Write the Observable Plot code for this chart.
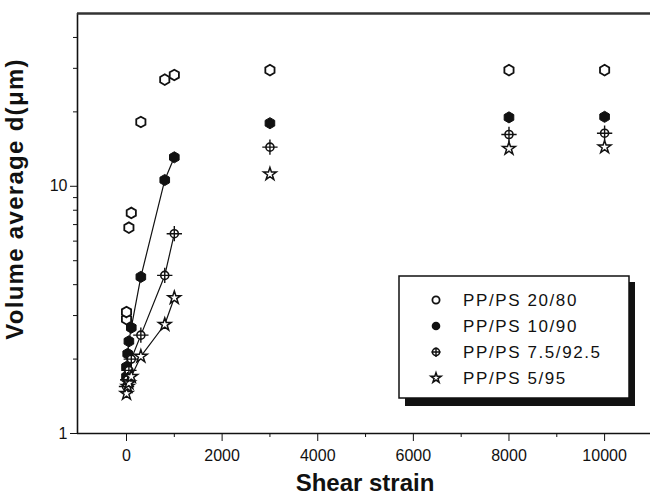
<!DOCTYPE html>
<html>
<head>
<meta charset="utf-8">
<script src="https://cdn.jsdelivr.net/npm/d3@7"></script>
<script src="https://cdn.jsdelivr.net/npm/@observablehq/plot@0.6"></script>
<style>
  body { margin: 0; background: #fff; }
  #chart { position: relative; width: 650px; height: 500px; }
  svg { font-family: "Liberation Sans", Arial, sans-serif; }
</style>
</head>
<body>
<div id="chart"></div>
<script>
// ---- data ----
const seriesNames = ["PP/PS 20/80", "PP/PS 10/90", "PP/PS 7.5/92.5", "PP/PS 5/95"];

const x20 = [0, 0, 50, 100, 300, 800, 1000, 3000, 8000, 10000];
const y20 = [2.9, 3.1, 6.8, 7.8, 18.2, 27.0, 28.2, 29.5, 29.5, 29.5];

const x10 = [0, 0, 25, 50, 100, 300, 800, 1000, 3000, 8000, 10000];
const y10 = [1.7, 1.86, 2.1, 2.36, 2.68, 4.3, 10.6, 13.1, 18.0, 19.0, 19.1];

const x75 = [0, 25, 50, 100, 300, 800, 1000, 3000, 8000, 10000];
const y75 = [1.55, 1.65, 1.8, 2.0, 2.5, 4.36, 6.43, 14.4, 16.2, 16.4];

const x5 = [0, 25, 50, 100, 300, 800, 1000, 3000, 8000, 10000];
const y5 = [1.45, 1.55, 1.6, 1.7, 2.05, 2.76, 3.54, 11.2, 14.2, 14.4];

const xMajorTicks = [0, 2000, 4000, 6000, 8000, 10000];
const xMinorTicks = [1000, 3000, 5000, 7000, 9000];
const yMajorTicks = [1, 10];
const yMinorTicks = [2, 3, 4, 5, 6, 7, 8, 9, 20, 30, 40];

const xLabel = "Shear strain";
const yLabel = "Volume average d(μm)";

// ---- build tables ----
const toRows = (xs, ys, s) => xs.map((x, i) => ({x, y: ys[i], s}));
const d20 = toRows(x20, y20, seriesNames[0]);
const d10 = toRows(x10, y10, seriesNames[1]);
const d75 = toRows(x75, y75, seriesNames[2]);
const d5 = toRows(x5, y5, seriesNames[3]);
const fitRows = [...d10, ...d75, ...d5].filter(d => d.x <= 1000);

const xDomain = [-1025, 10960];
const yDomain = [1, 50];

const plot = Plot.plot({
  width: 650,
  height: 500,
  marginLeft: 77,
  marginRight: 0,
  marginTop: 13,
  marginBottom: 67,
  style: {fontFamily: "'Liberation Sans', Arial, sans-serif", fontSize: "16px", color: "#111", background: "#fff"},
  x: {domain: xDomain, axis: null},
  y: {type: "log", domain: yDomain, axis: null},
  marks: [
    // axis lines
    Plot.ruleX([xDomain[0]], {stroke: "#111", strokeWidth: 1.6}),
    Plot.ruleY([yDomain[0]], {stroke: "#111", strokeWidth: 1.6}),
    Plot.ruleY([yDomain[1]], {stroke: "#333", strokeWidth: 2.5}),
    // ticks
    Plot.axisX({ticks: xMajorTicks, tickSize: 8, tickPadding: 8, tickFormat: d => String(d), label: null, stroke: "#111", fontSize: 16}),
    Plot.axisX({ticks: xMinorTicks, tickSize: 4, tickFormat: null, text: null, label: null, stroke: "#111"}),
    Plot.axisY({ticks: yMajorTicks, tickSize: 7, tickPadding: 3, tickFormat: d => String(d), label: null, stroke: "#111", fontSize: 16}),
    Plot.axisY({ticks: yMinorTicks, tickSize: 4, tickFormat: null, text: null, label: null, stroke: "#111"}),
    // fitted lines
    Plot.line(fitRows, {x: "x", y: "y", z: "s", stroke: "#111", strokeWidth: 1.2}),
    // points
    Plot.dot(d20, {x: "x", y: "y", symbol: "hexagon", r: 4.6, fill: "white", stroke: "#111", strokeWidth: 1.8}),
    Plot.dot(d10, {x: "x", y: "y", symbol: "hexagon", r: 4.8, fill: "#111", stroke: "#111", strokeWidth: 1}),
    Plot.dot(d75, {x: "x", y: "y", symbol: "circle", r: 4, fill: "white", stroke: "#111", strokeWidth: 1.6}),
    Plot.dot(d75, {x: "x", y: "y", symbol: "plus", r: 5, stroke: "#111", strokeWidth: 1.4}),
    Plot.dot(d5, {x: "x", y: "y", symbol: "star", r: 4, fill: "white", stroke: "#111", strokeWidth: 1.5})
  ]
});

document.getElementById("chart").appendChild(plot);

// ---- axis titles and legend ----
const svg = d3.select(plot);
svg.append("text")
  .attr("x", 365).attr("y", 491)
  .attr("text-anchor", "middle")
  .attr("font-size", 24).attr("font-weight", "bold")
  .attr("fill", "#111")
  .text(xLabel);
svg.append("text")
  .attr("transform", "translate(23,199) rotate(-90)")
  .attr("text-anchor", "middle")
  .attr("font-size", 24).attr("font-weight", "bold")
  .attr("letter-spacing", 1.3)
  .attr("fill", "#111")
  .text(yLabel);

const lg = svg.append("g").attr("text-anchor", "start");
lg.append("rect").attr("x", 405).attr("y", 282).attr("width", 230).attr("height", 124).attr("fill", "#111");
lg.append("rect").attr("x", 399).attr("y", 276).attr("width", 230).attr("height", 122)
  .attr("fill", "white").attr("stroke", "#111").attr("stroke-width", 1.5);

const rowY = [300, 326, 352, 378];
seriesNames.forEach((name, i) => {
  const cx = 436, cy = rowY[i];
  if (i === 0) {
    lg.append("circle").attr("cx", cx).attr("cy", cy).attr("r", 3.6).attr("fill", "white").attr("stroke", "#111").attr("stroke-width", 1.8);
  } else if (i === 1) {
    lg.append("circle").attr("cx", cx).attr("cy", cy).attr("r", 4.3).attr("fill", "#111");
  } else if (i === 2) {
    lg.append("circle").attr("cx", cx).attr("cy", cy).attr("r", 3.6).attr("fill", "white").attr("stroke", "#111").attr("stroke-width", 1.6);
    lg.append("path").attr("d", `M${cx-4.5},${cy}H${cx+4.5}M${cx},${cy-4.5}V${cy+5}`).attr("stroke", "#111").attr("stroke-width", 1.4);
  } else {
    lg.append("path").attr("transform", `translate(${cx},${cy})`)
      .attr("d", d3.symbol(d3.symbolStar, 32)())
      .attr("fill", "white").attr("stroke", "#111").attr("stroke-width", 1.5);
  }
  lg.append("text").attr("x", 463).attr("y", cy).attr("dy", "0.36em")
    .attr("text-anchor", "start")
    .attr("font-size", 17).attr("letter-spacing", 1.6).attr("fill", "#111")
    .text(name);
});
</script>
</body>
</html>
